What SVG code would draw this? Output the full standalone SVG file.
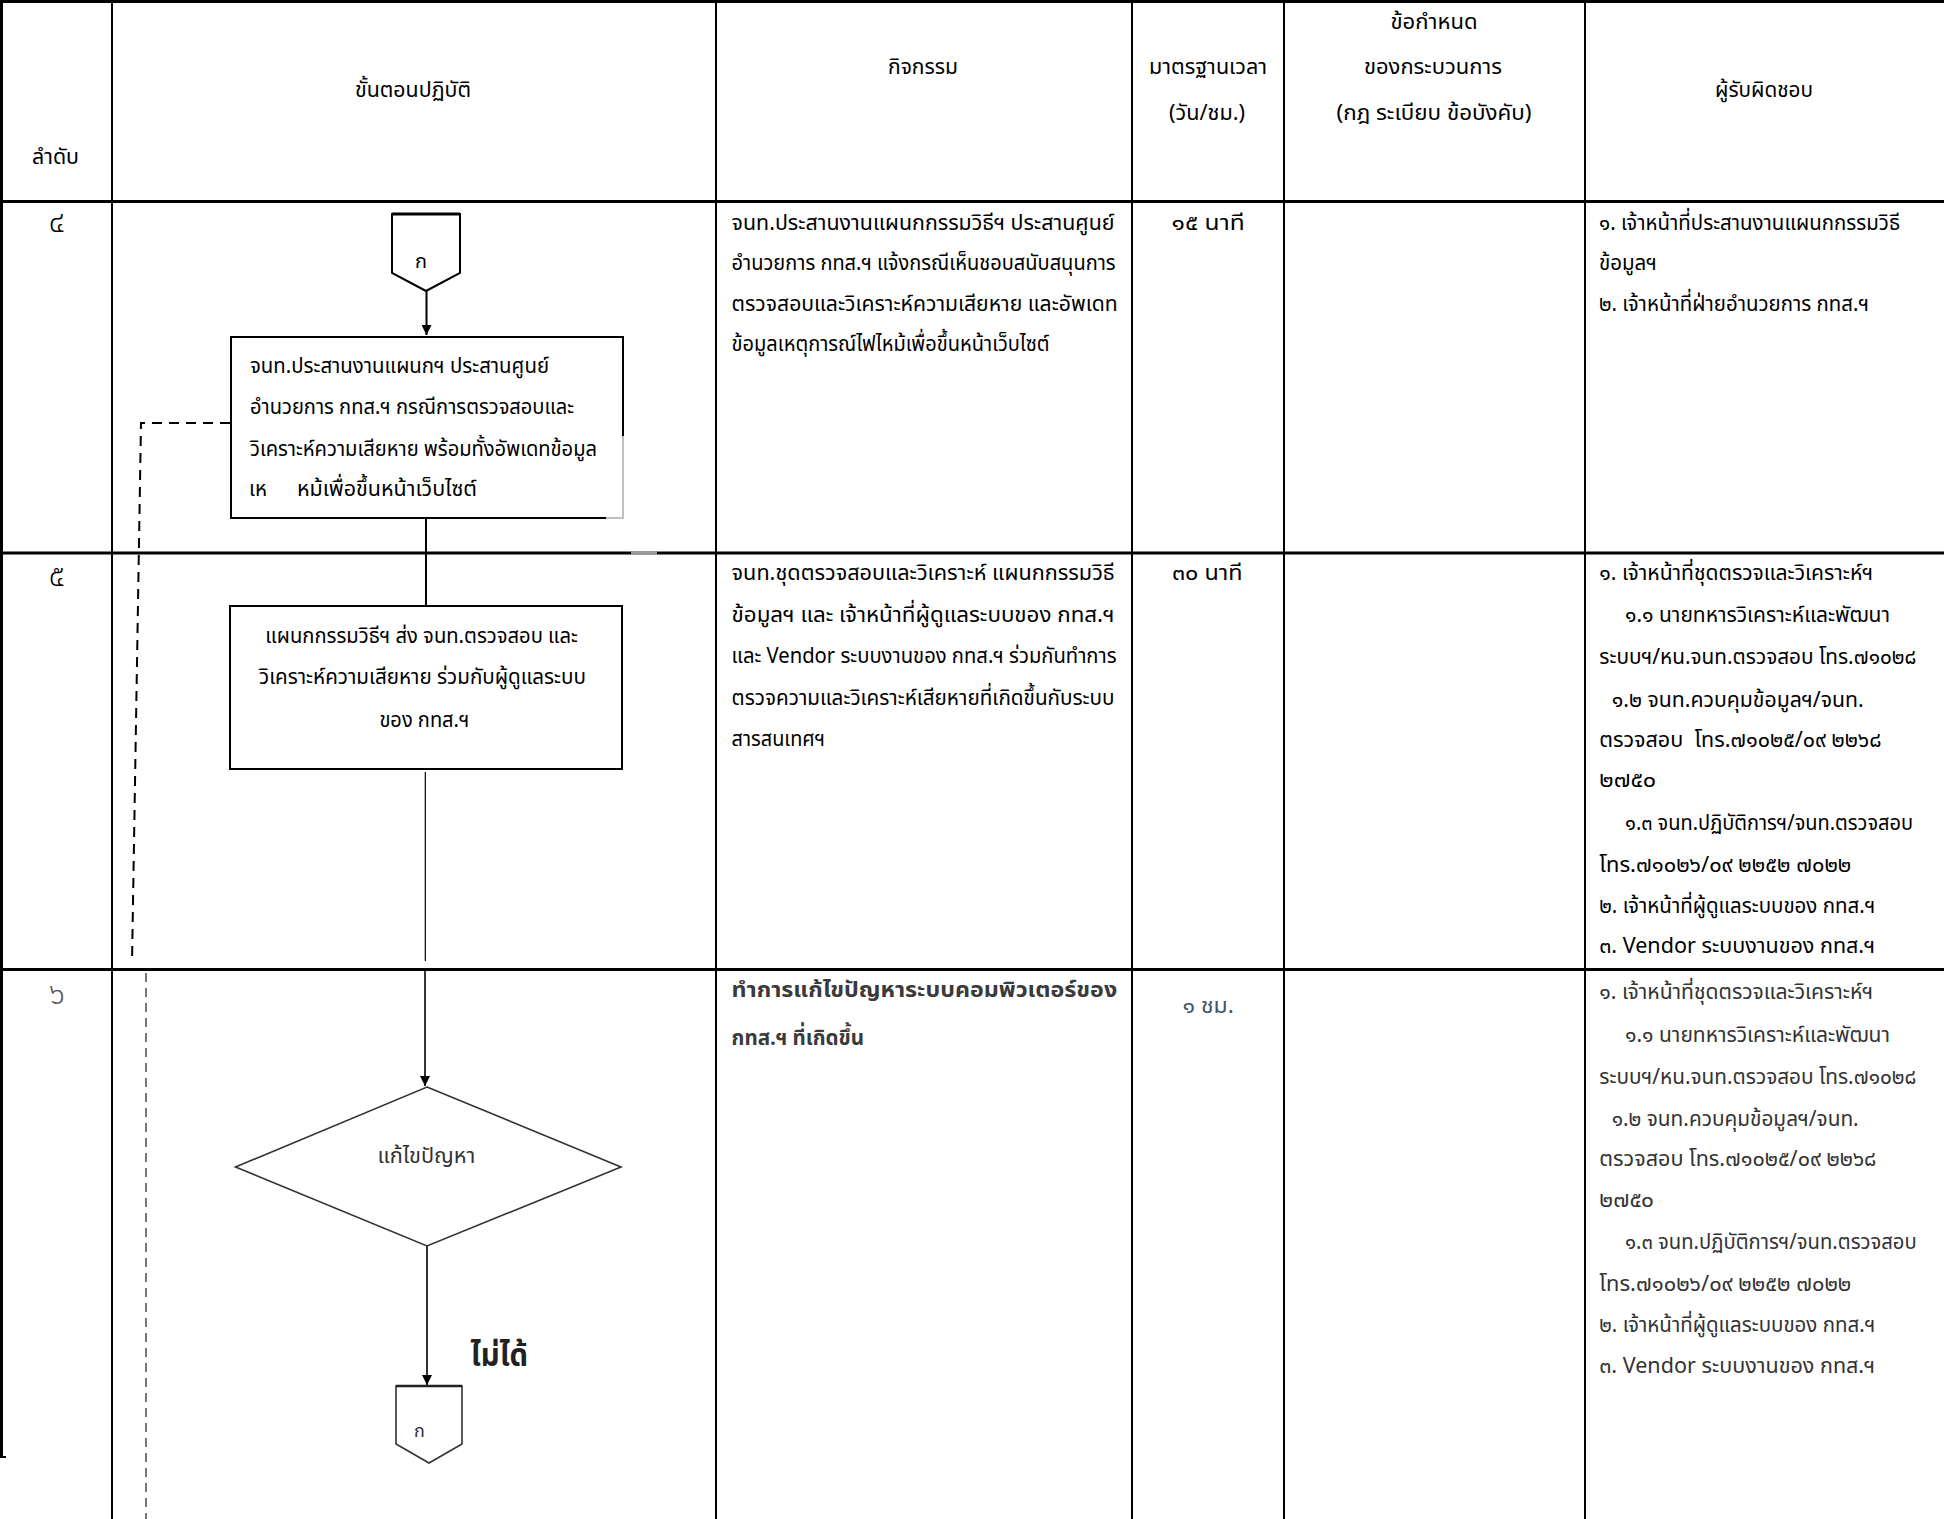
<svg xmlns="http://www.w3.org/2000/svg" width="1944" height="1519" viewBox="0 0 1944 1519">
<style>
text{font-family:"Noto Sans Thai","Noto Sans Thai UI","Noto Sans","DejaVu Sans",sans-serif;fill:#000}
.c{font-size:22px}
.w{font-size:21px}
.g{font-size:21px;fill:#333}
.b{font-size:22px;fill:#3a3a3a;font-weight:bold}
.n{font-size:30px;font-weight:300}
.grid{stroke:#000;fill:none}
.node{fill:#fff;stroke:#000;stroke-width:2}
.ln{stroke:#000;fill:none}
</style>
<defs>
<marker id="ah" viewBox="0 0 10 10" refX="10" refY="5" markerWidth="10" markerHeight="10" markerUnits="userSpaceOnUse" orient="auto">
<path d="M0,0 L10,5 L0,10 z" fill="#000"/>
</marker>
</defs>
<rect x="0" y="0" width="1944" height="1519" fill="#fff"/>

<g id="table">
<line class="grid" x1="0" y1="1.5" x2="1944" y2="1.5" stroke-width="3"/>
<line class="grid" x1="1.5" y1="0" x2="1.5" y2="1457" stroke-width="3"/>
<line class="grid" x1="0" y1="1457" x2="6" y2="1457" stroke-width="2"/>
<line class="grid" x1="0" y1="201.5" x2="1944" y2="201.5" stroke-width="3"/>
<line class="grid" x1="0" y1="553" x2="1944" y2="553" stroke-width="3"/>
<line class="grid" x1="0" y1="969.5" x2="1944" y2="969.5" stroke-width="3"/>
<line class="grid" x1="112" y1="0" x2="112" y2="1519" stroke-width="2"/>
<line class="grid" x1="716" y1="0" x2="716" y2="1519" stroke-width="2"/>
<line class="grid" x1="1132" y1="0" x2="1132" y2="1519" stroke-width="2"/>
<line class="grid" x1="1284" y1="0" x2="1284" y2="1519" stroke-width="2"/>
<line class="grid" x1="1585" y1="0" x2="1585" y2="1519" stroke-width="2"/>
</g>

<g id="header">
<text class="c" x="32" y="164" textLength="47" lengthAdjust="spacingAndGlyphs">ลำดับ</text>
<text class="c" x="355" y="97" textLength="116" lengthAdjust="spacingAndGlyphs">ขั้นตอนปฏิบัติ</text>
<text class="c" x="888" y="74" textLength="70" lengthAdjust="spacingAndGlyphs">กิจกรรม</text>
<text class="c" x="1149" y="74" textLength="118" lengthAdjust="spacingAndGlyphs">มาตรฐานเวลา</text>
<text class="c" x="1169" y="120" textLength="76" lengthAdjust="spacingAndGlyphs">(วัน/ชม.)</text>
<text class="c" x="1390.5" y="29" textLength="87" lengthAdjust="spacingAndGlyphs">ข้อกำหนด</text>
<text class="c" x="1364" y="74" textLength="138" lengthAdjust="spacingAndGlyphs">ของกระบวนการ</text>
<text class="c" x="1336.5" y="120" textLength="195" lengthAdjust="spacingAndGlyphs">(กฎ ระเบียบ ข้อบังคับ)</text>
<text class="c" x="1715" y="96.5" textLength="98" lengthAdjust="spacingAndGlyphs">ผู้รับผิดชอบ</text>
</g>

<g id="row4">
<text class="n" x="57" y="232" text-anchor="middle">๔</text>
<text class="c" x="731.6" y="230" textLength="383" lengthAdjust="spacingAndGlyphs">จนท.ประสานงานแผนกกรรมวิธีฯ ประสานศูนย์</text>
<text class="c" x="731.6" y="270" textLength="384" lengthAdjust="spacingAndGlyphs">อำนวยการ กทส.ฯ แจ้งกรณีเห็นชอบสนับสนุนการ</text>
<text class="c" x="731.6" y="311" textLength="386" lengthAdjust="spacingAndGlyphs">ตรวจสอบและวิเคราะห์ความเสียหาย และอัพเดท</text>
<text class="c" x="731.6" y="351" textLength="318" lengthAdjust="spacingAndGlyphs">ข้อมูลเหตุการณ์ไฟไหม้เพื่อขึ้นหน้าเว็บไซต์</text>
<text class="c" x="1171.6" y="230" textLength="73" lengthAdjust="spacingAndGlyphs">๑๕ นาที</text>
<text class="c" x="1599" y="230" textLength="301" lengthAdjust="spacingAndGlyphs">๑. เจ้าหน้าที่ประสานงานแผนกกรรมวิธี</text>
<text class="c" x="1599" y="270" textLength="58" lengthAdjust="spacingAndGlyphs">ข้อมูลฯ</text>
<text class="c" x="1599" y="311" textLength="270" lengthAdjust="spacingAndGlyphs">๒. เจ้าหน้าที่ฝ่ายอำนวยการ กทส.ฯ</text>
</g>

<g id="row5">
<text class="n" x="57" y="586" text-anchor="middle">๕</text>
<text class="c" x="731.6" y="580" textLength="383" lengthAdjust="spacingAndGlyphs">จนท.ชุดตรวจสอบและวิเคราะห์ แผนกกรรมวิธี</text>
<text class="c" x="731.6" y="621.5" textLength="383" lengthAdjust="spacingAndGlyphs">ข้อมูลฯ และ เจ้าหน้าที่ผู้ดูแลระบบของ กทส.ฯ</text>
<text class="c" x="731.6" y="663" textLength="385" lengthAdjust="spacingAndGlyphs">และ Vendor ระบบงานของ กทส.ฯ ร่วมกันทำการ</text>
<text class="c" x="731.6" y="704.5" textLength="383" lengthAdjust="spacingAndGlyphs">ตรวจความและวิเคราะห์เสียหายที่เกิดขึ้นกับระบบ</text>
<text class="c" x="731.6" y="746" textLength="93.6" lengthAdjust="spacingAndGlyphs">สารสนเทศฯ</text>
<text class="c" x="1172" y="580" textLength="70.6" lengthAdjust="spacingAndGlyphs">๓๐ นาที</text>
<text class="w" x="1599.3" y="580" textLength="274" lengthAdjust="spacingAndGlyphs">๑. เจ้าหน้าที่ชุดตรวจและวิเคราะห์ฯ</text>
<text class="w" x="1625" y="621.7" textLength="265" lengthAdjust="spacingAndGlyphs">๑.๑ นายทหารวิเคราะห์และพัฒนา</text>
<text class="w" x="1599.3" y="664" textLength="317" lengthAdjust="spacingAndGlyphs">ระบบฯ/หน.จนท.ตรวจสอบ โทร.๗๑๐๒๘</text>
<text class="w" x="1611.7" y="706.7" textLength="252" lengthAdjust="spacingAndGlyphs">๑.๒ จนท.ควบคุมข้อมูลฯ/จนท.</text>
<text class="w" x="1599.3" y="746.7" textLength="282" lengthAdjust="spacingAndGlyphs" xml:space="preserve">ตรวจสอบ  โทร.๗๑๐๒๕/๐๙ ๒๒๖๘</text>
<text class="w" x="1599.3" y="786.7" textLength="56.7" lengthAdjust="spacingAndGlyphs">๒๗๕๐</text>
<text class="w" x="1625" y="830" textLength="288" lengthAdjust="spacingAndGlyphs">๑.๓ จนท.ปฏิบัติการฯ/จนท.ตรวจสอบ</text>
<text class="w" x="1599.3" y="871.7" textLength="252" lengthAdjust="spacingAndGlyphs">โทร.๗๑๐๒๖/๐๙ ๒๒๕๒ ๗๐๒๒</text>
<text class="w" x="1599.3" y="912.7" textLength="276" lengthAdjust="spacingAndGlyphs">๒. เจ้าหน้าที่ผู้ดูแลระบบของ กทส.ฯ</text>
<text class="w" x="1599.3" y="953" textLength="276" lengthAdjust="spacingAndGlyphs">๓. Vendor ระบบงานของ กทส.ฯ</text>
</g>

<g id="row6">
<text class="n" x="57" y="1004" text-anchor="middle" style="fill:#555">๖</text>
<text class="b" x="731.6" y="997" textLength="385.6" lengthAdjust="spacingAndGlyphs">ทำการแก้ไขปัญหาระบบคอมพิวเตอร์ของ</text>
<text class="b" x="731.6" y="1045" textLength="132.5" lengthAdjust="spacingAndGlyphs">กทส.ฯ ที่เกิดขึ้น</text>
<text x="1182.4" y="1013" textLength="51.4" lengthAdjust="spacingAndGlyphs" style="fill:#44546a;font-size:22px">๑ ชม.</text>
<text class="g" x="1599.3" y="999" textLength="274" lengthAdjust="spacingAndGlyphs">๑. เจ้าหน้าที่ชุดตรวจและวิเคราะห์ฯ</text>
<text class="g" x="1625" y="1041.7" textLength="265" lengthAdjust="spacingAndGlyphs">๑.๑ นายทหารวิเคราะห์และพัฒนา</text>
<text class="g" x="1599.3" y="1084" textLength="317" lengthAdjust="spacingAndGlyphs">ระบบฯ/หน.จนท.ตรวจสอบ โทร.๗๑๐๒๘</text>
<text class="g" x="1611.7" y="1125.7" textLength="247" lengthAdjust="spacingAndGlyphs">๑.๒ จนท.ควบคุมข้อมูลฯ/จนท.</text>
<text class="g" x="1599.3" y="1165.7" textLength="277" lengthAdjust="spacingAndGlyphs">ตรวจสอบ โทร.๗๑๐๒๕/๐๙ ๒๒๖๘</text>
<text class="g" x="1599.3" y="1206.7" textLength="54.7" lengthAdjust="spacingAndGlyphs">๒๗๕๐</text>
<text class="g" x="1625" y="1249" textLength="291.7" lengthAdjust="spacingAndGlyphs">๑.๓ จนท.ปฏิบัติการฯ/จนท.ตรวจสอบ</text>
<text class="g" x="1599.3" y="1291" textLength="252" lengthAdjust="spacingAndGlyphs">โทร.๗๑๐๒๖/๐๙ ๒๒๕๒ ๗๐๒๒</text>
<text class="g" x="1599.3" y="1331.7" textLength="276" lengthAdjust="spacingAndGlyphs">๒. เจ้าหน้าที่ผู้ดูแลระบบของ กทส.ฯ</text>
<text class="g" x="1599.3" y="1373" textLength="276" lengthAdjust="spacingAndGlyphs">๓. Vendor ระบบงานของ กทส.ฯ</text>
</g>

<g id="connectors">
<line class="ln" x1="426.5" y1="291" x2="426.5" y2="335" stroke-width="2" marker-end="url(#ah)"/>
<line class="ln" x1="426" y1="518" x2="426" y2="606" stroke-width="2"/>
<line class="ln" x1="425.3" y1="772" x2="425.3" y2="961" stroke-width="1.2"/>
<line class="ln" x1="425" y1="970" x2="425" y2="1086" stroke-width="1.6" marker-end="url(#ah)"/>
<line class="ln" x1="427" y1="1246" x2="427" y2="1385" stroke-width="1.6" marker-end="url(#ah)"/>
<polyline class="ln" points="230,423 141,423 132,963" stroke-width="2" stroke-dasharray="10 7"/>
<line class="ln" x1="146" y1="973" x2="146" y2="1519" stroke-width="1.6" stroke-dasharray="9 6" style="stroke:#555"/>
</g>

<g id="node-connector-top">
<polygon class="node" points="392,214 460,214 460,273 426,291 392,273"/>
<line class="ln" x1="392" y1="214" x2="460" y2="214" stroke-width="3"/>
<text x="421" y="268" text-anchor="middle" style="font-size:20px">ก</text>
</g>

<g id="node-box4">
<rect class="node" x="231" y="337" width="392" height="181"/>
<text class="c" x="250" y="373" textLength="299" lengthAdjust="spacingAndGlyphs">จนท.ประสานงานแผนกฯ ประสานศูนย์</text>
<text class="c" x="250" y="414" textLength="324" lengthAdjust="spacingAndGlyphs">อำนวยการ กทส.ฯ กรณีการตรวจสอบและ</text>
<text class="c" x="250" y="456" textLength="347" lengthAdjust="spacingAndGlyphs">วิเคราะห์ความเสียหาย พร้อมทั้งอัพเดทข้อมูล</text>
<text class="c" x="249" y="496" textLength="18" lengthAdjust="spacingAndGlyphs">เห</text>
<text class="c" x="297" y="496" textLength="180" lengthAdjust="spacingAndGlyphs">หม้เพื่อขึ้นหน้าเว็บไซต์</text>
</g>

<g id="erase-artifact">
<rect x="606" y="436" width="108" height="115" fill="#fff" opacity="0.75"/>
<rect x="631" y="551" width="26" height="4" fill="#999"/>
</g>

<g id="node-box5">
<rect class="node" x="230" y="606" width="392" height="163"/>
<text class="c" x="265.3" y="643" textLength="312.5" lengthAdjust="spacingAndGlyphs">แผนกกรรมวิธีฯ ส่ง จนท.ตรวจสอบ และ</text>
<text class="c" x="259" y="684" textLength="327" lengthAdjust="spacingAndGlyphs">วิเคราะห์ความเสียหาย ร่วมกับผู้ดูแลระบบ</text>
<text class="c" x="379.4" y="727" textLength="90" lengthAdjust="spacingAndGlyphs">ของ กทส.ฯ</text>
</g>

<g id="node-diamond6">
<polygon points="427,1087 621,1167 427,1246 235.5,1167" fill="#fff" stroke="#333" stroke-width="1.6"/>
<text x="377.4" y="1163" textLength="98" lengthAdjust="spacingAndGlyphs" style="font-size:21px;fill:#333">แก้ไขปัญหา</text>
</g>

<g id="label-no">
<text x="470.6" y="1366" textLength="57.4" lengthAdjust="spacingAndGlyphs" style="font-size:32px;font-weight:bold;fill:#222">ไม่ได้</text>
</g>

<g id="node-connector-bottom">
<polygon points="396,1386 462,1386 462,1444 429,1463 396,1444" fill="#fff" stroke="#333" stroke-width="1.6"/>
<line x1="396" y1="1386" x2="462" y2="1386" stroke="#222" stroke-width="2.5"/>
<text x="419.5" y="1437" text-anchor="middle" style="font-size:18px;fill:#333">ก</text>
</g>
</svg>
